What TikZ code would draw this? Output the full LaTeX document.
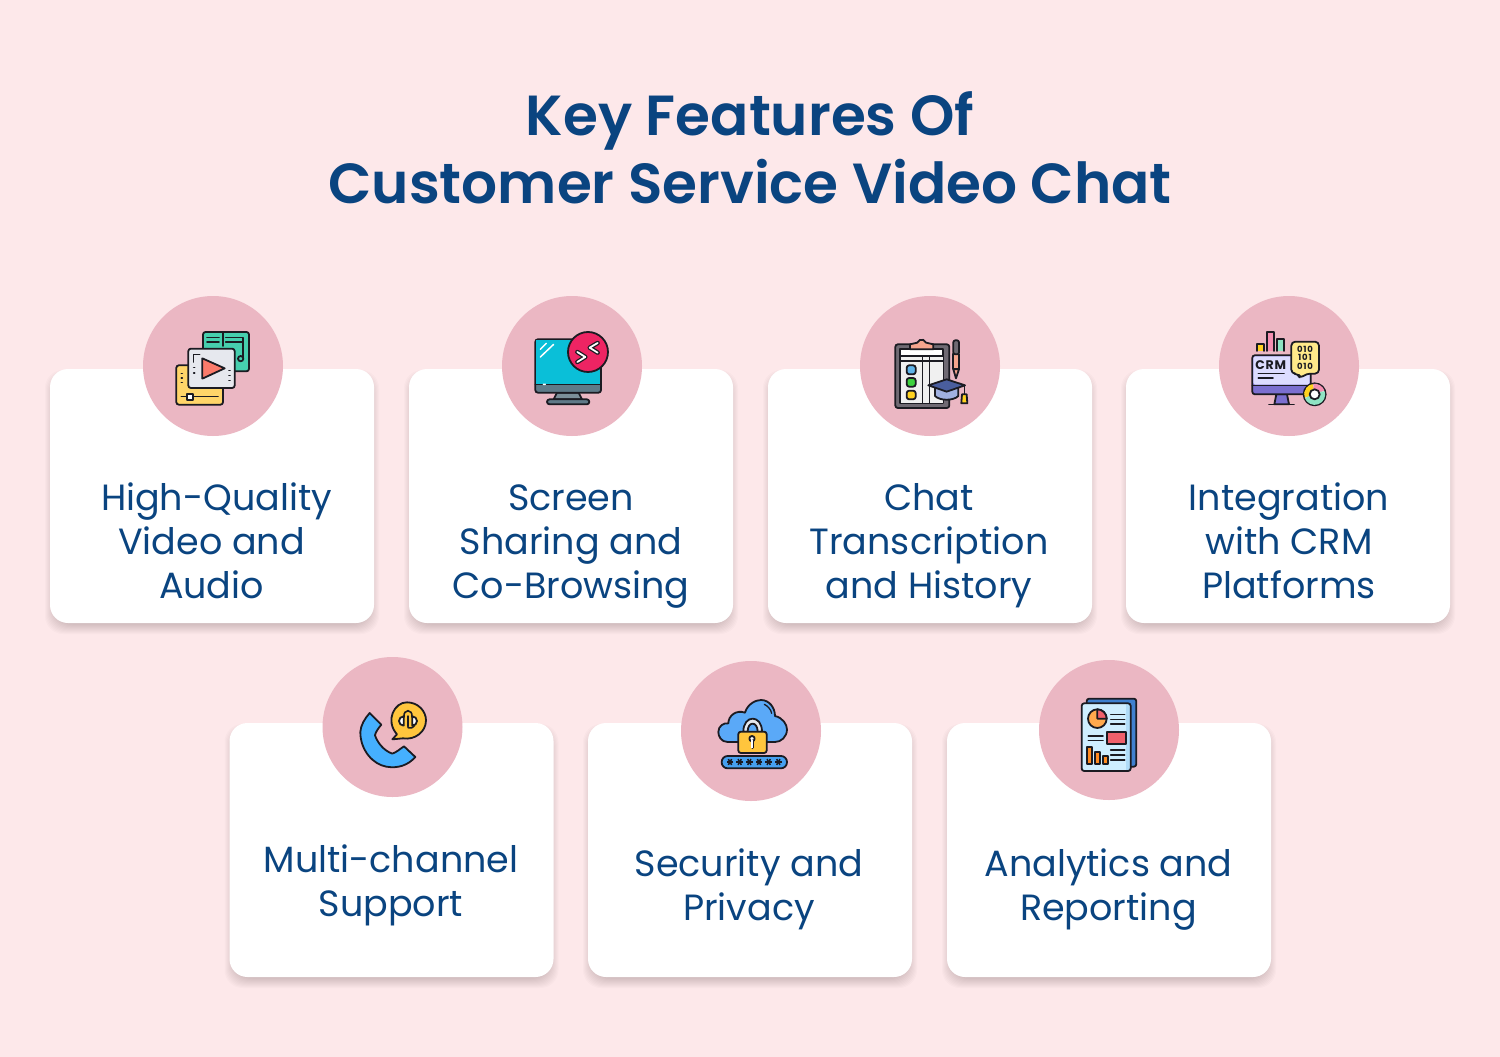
\documentclass[tikz,border=0pt]{standalone}
\usepackage{fontspec}
\setmainfont{Poppins}
\newfontfamily\titlefont{Poppins SemiBold}
\newfontfamily\bodyfont{Poppins}
\newfontfamily\iconfont{Poppins Bold}
\definecolor{bgpink}{HTML}{FDE8EA}
\definecolor{disc}{HTML}{EBB7C3}
\definecolor{ink}{HTML}{0A4480}
\definecolor{ol}{HTML}{1B1B22}
\definecolor{HTMLgreen}{HTML}{46CFAE}
\definecolor{HTMLyellow}{HTML}{FFD569}
\definecolor{HTMLgray}{HTML}{E6E8EE}
\definecolor{HTMLcoral}{HTML}{FB7B6B}
\definecolor{HTMLsteel}{HTML}{7B8F99}
\definecolor{HTMLslate}{HTML}{5F7A88}
\definecolor{HTMLcyan}{HTML}{0ABFD8}
\definecolor{HTMLrose}{HTML}{EE2463}
\definecolor{HTMLboard}{HTML}{6F6A73}
\definecolor{HTMLpaper}{HTML}{F0F0F0}
\definecolor{HTMLsalmon}{HTML}{F6A58E}
\definecolor{HTMLsky}{HTML}{5FB4EA}
\definecolor{HTMLlime}{HTML}{3ED23E}
\definecolor{HTMLgold}{HTML}{FFD21F}
\definecolor{HTMLcap}{HTML}{A0B0E0}
\definecolor{HTMLmortar}{HTML}{4A5E9E}
\definecolor{HTMLpinkbar}{HTML}{F48FB1}
\definecolor{HTMLmint}{HTML}{8FE3C3}
\definecolor{HTMLviolet}{HTML}{7B6FD0}
\definecolor{HTMLlilac}{HTML}{DCDCFF}
\definecolor{HTMLcream}{HTML}{FFE98A}
\definecolor{HTMLphone}{HTML}{45B0FF}
\definecolor{HTMLamber}{HTML}{FFC53D}
\definecolor{HTMLcloud}{HTML}{5AA9F8}
\definecolor{HTMLbar}{HTML}{45A0F0}
\definecolor{HTMLblue}{HTML}{3F80CF}
\definecolor{HTMLsheet}{HTML}{CFEEFF}
\definecolor{HTMLstrip}{HTML}{B0DCF8}
\definecolor{HTMLorange}{HTML}{FFA94D}
\definecolor{HTMLred}{HTML}{F0606B}
\definecolor{HTMLbarorange}{HTML}{FF8A1F}
\tikzset{
  x=1pt,y=-1pt,
  card/.style={fill=white,rounded corners=18pt,minimum width=324pt,minimum height=254pt,inner sep=0pt},
  disk/.style={circle,fill=disc,minimum size=140pt,inner sep=0pt},
  cardtext/.style={text=ink,font=\bodyfont\fontsize{36.5}{44}\selectfont,align=center,inner sep=0pt},
  heading/.style={text=ink,font=\titlefont\fontsize{56.5}{68}\selectfont,align=center,inner sep=0pt},
  iconpart/.style={x=0.3333pt,y=-0.3333pt},
  o/.style={draw=ol,line width=1.8pt,line join=round,line cap=round},
  r/.style={o,rounded corners=2.5pt},
  ln/.style={draw=ol,line width=1.6pt,line cap=round},
  glyph/.style={inner sep=0pt,text=ol},
}
\newcommand{\softshadow}[2]{%
  \foreach \d in {5,4,...,-5}{
    \fill[black,opacity=0.016,rounded corners=18pt]
      (#1-\d,#2-\d+6) rectangle (#1+324+\d,#2+254+\d+6);
  }
}
\begin{document}
\begin{tikzpicture}
\useasboundingbox (0,0) rectangle (1500,1057);
\fill[bgpink] (0,0) rectangle (1500,1057);
\node[heading] (title) at (750,147.5) {Key Features Of\\Customer Service Video Chat};

\softshadow{50}{369}\softshadow{409}{369}\softshadow{768}{369}\softshadow{1126}{369}
\softshadow{229.5}{723}\softshadow{588}{723}\softshadow{947}{723}
\node[card] (c1) at (212,496) {};
\node[card] (c2) at (571,496) {};
\node[card] (c3) at (930,496) {};
\node[card] (c4) at (1288,496) {};
\node[card] (c5) at (391.5,850) {};
\node[card] (c6) at (750,850) {};
\node[card] (c7) at (1109,850) {};
\node[disk] (d1) at (213,366) {};
\node[disk] (d2) at (572,366) {};
\node[disk] (d3) at (930,366) {};
\node[disk] (d4) at (1289,366) {};
\node[disk] (d5) at (392.5,727) {};
\node[disk] (d6) at (751,731) {};
\node[disk] (d7) at (1109,730) {};

\node[cardtext] (t1) at (211.5,545.2) {\strut\hspace*{10pt}High-Quality\\Video and\\Audio\strut};
\node[cardtext] (t2) at (571,545.2) {\strut Screen\\Sharing and\\Co-Browsing\strut};
\node[cardtext] (t3) at (929,545.2) {\strut Chat\\Transcription\\and History\strut};
\node[cardtext] (t4) at (1289,545.2) {\strut Integration\\with CRM\\Platforms\strut};
\node[cardtext] (t5) at (391,885.2) {\strut Multi-channel\\Support\strut};
\node[cardtext] (t6) at (749,889.2) {\strut Security and\\Privacy\strut};
\node[cardtext] (t7) at (1108.5,889.2) {\strut Analytics and\\Reporting\strut};

% icon 1
\begin{scope}[shift={(143,296)},iconpart]
\filldraw[r,fill=HTMLgreen] (180,108) rectangle (318,226);
\draw[ln] (192,125)--(228,125) (192,138)--(228,138) (248,125)--(300,125) (248,138)--(300,138) (240,112)--(240,150) (300,125)--(300,188);
\draw[o,fill=HTMLgreen] (293,188) circle[radius=8];
\filldraw[r,fill=HTMLyellow] (100,208) rectangle (240,326);
\draw[ln] (115,232)--(118,232) (115,246)--(118,246) (115,260)--(118,260) (115,302)--(225,302);
\filldraw[o,fill=white] (133,294) rectangle (150,311);
\filldraw[r,fill=HTMLgray] (136,158) rectangle (275,276);
\draw[ln] (152,198)--(152,175)--(170,175) (152,215)--(155,215) (152,231)--(155,231) (258,223)--(261,223) (258,238)--(261,238) (258,253)--(261,253);
\filldraw[o,fill=HTMLcoral] (178,187)--(245,217)--(178,248)--cycle;
\end{scope}

% icon 2
\begin{scope}[shift={(502,296)},iconpart]
\filldraw[o,fill=HTMLsteel] (165,290)--(230,290)--(240,310)--(155,310)--cycle;
\filldraw[r,fill=HTMLslate] (135,310) rectangle (262,325);
\filldraw[r,fill=HTMLslate] (100,130) rectangle (297,290);
\fill[HTMLcyan] (103,133) rectangle (294,265);
\draw[ln] (100,265)--(297,265);
\draw[white,line width=1.5pt,line cap=round] (115,160)--(133,142) (115,183)--(155,145) (124,265)--(130,265);
\filldraw[o,fill=HTMLrose] (258,168) circle[radius=60];
\draw[ol,line width=4.4pt,line cap=round,line join=round] (226,168)--(250,183)--(226,198) (287,141)--(263,155)--(287,170);
\draw[white,line width=1.8pt,line cap=round,line join=round] (226,168)--(250,183)--(226,198) (287,141)--(263,155)--(287,170);
\end{scope}

% icon 3
\begin{scope}[shift={(860,296)},iconpart]
\filldraw[r,fill=HTMLboard] (106,145) rectangle (268,336);
\filldraw[o,fill=white] (120,160) rectangle (250,322);
\fill[HTMLpaper] (122,182) rectangle (248,320);
\draw[ln] (120,180)--(250,180) (120,195)--(250,195) (188,180)--(188,322) (208,180)--(208,322);
\filldraw[o,fill=HTMLsalmon] (150,160)--(150,145)--(172,140) arc[start angle=-160,end angle=-20,radius=14]--(220,145)--(220,160)--cycle;
\filldraw[r,fill=HTMLsky] (140,208) rectangle (167,235);
\filldraw[r,fill=HTMLlime] (140,246) rectangle (167,272);
\filldraw[r,fill=HTMLgold] (140,284) rectangle (167,310);
\filldraw[o,fill=HTMLsalmon] (280,175) rectangle (297,220);
\filldraw[o,fill=HTMLboard,rounded corners=2pt] (280,175)--(280,133)--(297,133)--(297,175)--cycle;
\filldraw[o,fill=HTMLsalmon] (280,220)--(288,247)--(297,220)--cycle;
\filldraw[o,fill=HTMLcap] (225,275)--(225,300) .. controls (240,315) and (280,315) .. (295,300)--(295,275)--cycle;
\filldraw[o,fill=HTMLmortar] (205,268)--(260,250)--(315,268)--(260,287)--cycle;
\draw[ln] (313,268)--(313,295);
\filldraw[o,fill=HTMLgold] (306,295)--(320,295)--(322,322)--(304,322)--cycle;
\end{scope}

% icon 4
\begin{scope}[shift={(1219,296)},iconpart]
\filldraw[o,fill=HTMLgold] (115,165)--(115,143)--(135,143)--(135,165);
\filldraw[o,fill=HTMLpinkbar] (143,165)--(143,108)--(165,108)--(165,165);
\filldraw[o,fill=HTMLmint] (173,165)--(173,130)--(195,130)--(195,165);
\filldraw[o,fill=HTMLviolet] (172,295)--(204,295)--(210,325)--(166,325)--cycle;
\draw[ln] (150,325)--(225,325);
\filldraw[r,fill=HTMLviolet] (100,178) rectangle (275,295);
\fill[HTMLlilac,rounded corners=2pt] (103,181) rectangle (272,266);
\draw[ln] (100,268)--(275,268) (118,232)--(195,232) (118,246)--(162,246);
\node[glyph,font=\iconfont\fontsize{12.5}{12.5}\selectfont] (crm) at (155,208) {C\kern.8pt R\kern.8pt M};
\filldraw[o,fill=HTMLcream,rounded corners=4pt] (217,137)--(300,137)--(300,233)--(262,233)--(243,248)--(238,233)--(217,233)--cycle;
\node[glyph,font=\iconfont\fontsize{8.5}{8.4}\selectfont,align=center] (bits) at (258,185) {0\kern.8pt 1\kern.8pt 0\\1\kern.8pt 0\kern.8pt 1\\0\kern.8pt 1\kern.8pt 0};
\filldraw[o,fill=white] (287,295) circle[radius=33];
\draw[line width=5pt,HTMLgold] (287,295) ++(-200:24) arc[start angle=-200,end angle=-100,radius=24];
\draw[line width=5pt,HTMLpinkbar] (287,295) ++(-100:24) arc[start angle=-100,end angle=-20,radius=24];
\draw[line width=5pt,HTMLmint] (287,295) ++(-20:24) arc[start angle=-20,end angle=160,radius=24];
\draw[o,fill=white] (287,295) circle[radius=15];
\end{scope}

% icon 5
\begin{scope}[shift={(323,657)},iconpart]
\filldraw[o,fill=HTMLphone] (140,168)--(175,203) .. controls (165,215) and (158,225) .. (156,235) .. controls (163,255) and (180,280) .. (208,290) .. controls (222,285) and (232,275) .. (243,268)--(277,300) .. controls (255,325) and (225,335) .. (190,329) .. controls (150,322) and (112,280) .. (112,225) .. controls (113,205) and (125,185) .. (140,168)--cycle;
\filldraw[o,fill=HTMLamber] (208,247)--(222,232) .. controls (185,190) and (215,135) .. (252,136) .. controls (285,136) and (309,162) .. (309,190) .. controls (309,225) and (275,250) .. (240,244)--cycle;
\draw[ln] (243,180) .. controls (240,155) and (270,155) .. (267,180);
\filldraw[o,fill=white] (242,178) arc[start angle=-90,end angle=-270,radius=14]--cycle;
\filldraw[o,fill=white] (268,178) arc[start angle=-90,end angle=90,radius=14]--cycle;
\draw[ol,line width=2.6pt,line cap=round] (255,178)--(255,208);
\draw[ln] (275,205) .. controls (272,212) and (265,214) .. (255,212);
\end{scope}

% icon 6
\begin{scope}[shift={(681,661)},iconpart]
\filldraw[o,fill=HTMLcloud] (140,243) .. controls (120,243) and (112,225) .. (112,213) .. controls (112,195) and (128,185) .. (142,187) .. controls (142,165) and (165,145) .. (192,155) .. controls (200,128) and (225,117) .. (240,117) .. controls (265,117) and (282,140) .. (282,165) .. controls (305,170) and (318,190) .. (318,205) .. controls (318,228) and (300,243) .. (282,243)--cycle;
\draw[ol,line width=1.3pt,line cap=round] (250,130) .. controls (260,135) and (270,145) .. (272,157);
\filldraw[o,fill=HTMLgray] (187,212) .. controls (187,160) and (243,160) .. (243,212)--(230,212) .. controls (230,180) and (200,180) .. (200,212)--cycle;
\filldraw[r,fill=HTMLamber] (172,212) rectangle (257,276);
\filldraw[o,fill=white] (213,233) circle[radius=8];
\draw[ol,line width=3pt,line cap=round] (213,240)--(213,260);
\draw[white,line width=1.2pt,line cap=round] (213,238)--(213,260);
\filldraw[o,fill=HTMLbar,rounded corners=6pt] (122,285) rectangle (318,322);
\foreach \sx in {147,176,205,234,263,292}{
  \foreach \ang in {0,60,120}{
    \draw[ol,line width=1.5pt] (\sx,303) ++(\ang:10) -- ++(\ang+180:20);
  }
}
\end{scope}

% icon 7
\begin{scope}[shift={(1039,660)},iconpart]
\filldraw[r,fill=HTMLblue] (143,116) rectangle (292,320);
\fill[HTMLsheet,rounded corners=2pt] (128,130) rectangle (275,333);
\fill[HTMLstrip] (260,132) rectangle (275,332);
\draw[r] (128,130) rectangle (275,333);
\filldraw[o,fill=HTMLorange] (175,176) circle[radius=28];
\filldraw[o,fill=HTMLred] (175,176)--(175,148) arc[start angle=-90,end angle=0,radius=28]--cycle;
\draw[ln] (215,163)--(257,163) (215,178)--(257,178) (215,192)--(257,192) (148,228)--(192,228) (148,242)--(192,242) (215,270)--(257,270) (215,285)--(257,285) (215,300)--(257,300);
\filldraw[o,fill=HTMLred] (203,216) rectangle (262,252);
\filldraw[o,fill=HTMLbarorange] (145,262) rectangle (160,312);
\filldraw[o,fill=HTMLbarorange] (169,275) rectangle (183,312);
\filldraw[o,fill=HTMLbarorange] (193,288) rectangle (207,312);
\end{scope}
\end{tikzpicture}
\end{document}
